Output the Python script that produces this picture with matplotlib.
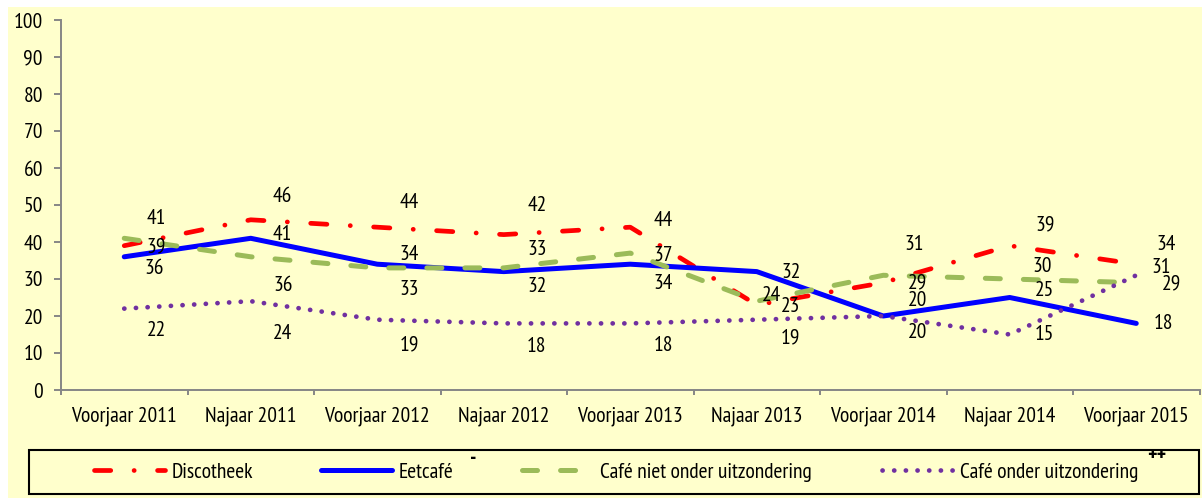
import matplotlib
matplotlib.use("Agg")
import matplotlib.pyplot as plt
from matplotlib import font_manager
from matplotlib.patches import Rectangle
import numpy as np

# ---- data ----
categories = ["Voorjaar 2011", "Najaar 2011", "Voorjaar 2012", "Najaar 2012",
              "Voorjaar 2013", "Najaar 2013", "Voorjaar 2014", "Najaar 2014",
              "Voorjaar 2015"]
discotheek = [39, 46, 44, 42, 44, 23, 29, 39, 34]
eetcafe = [36, 41, 34, 32, 34, 32, 20, 25, 18]
cafe_niet = [41, 36, 33, 33, 37, 24, 31, 30, 29]
cafe_onder = [22, 24, 19, 18, 18, 19, 20, 15, 31]
series_names = ["Discotheek", "Eetcafé", "Café niet onder uitzondering",
                "Café onder uitzondering"]
yticks = [0, 10, 20, 30, 40, 50, 60, 70, 80, 90, 100]

# label offsets (pixels) relative to each point
lab_dx = [
    [32, 32, 32, 33, 33, 34, 34, 35, 30],
    [30, 32, 32, 33, 33, 34, 34, 35, 27],
    [32, 32, 32, 33, 33, 15, 31, 32, 35],
    [32, 32, 32, 33, 33, 34, 34, 35, 25],
]
lab_dy = [
    [-1, 23, 25, 29, 7, -2, 0, 21, 20],
    [-12, 4, 10, -15, -19, -1, 16, 7, 0],
    [20, -29, -22, 18, -2, 6, 31, 12, -1],
    [-22, -32, -25, -23, -22, -18, -17, 0, 8],
]
# legend entry start positions (pixels from left)
legend_x = [94, 321, 522, 882]

# ---- fonts ----
names = {f.name for f in font_manager.fontManager.ttflist}
FONT, FS = "Liberation Sans", 12.5
for cand in ["Liberation Sans Narrow", "Arial Narrow", "Arimo Narrow",
             "PT Sans Narrow", "Roboto Condensed", "Archivo Narrow",
             "Open Sans Condensed", "Asap Condensed"]:
    if cand in names:
        FONT, FS = cand, 15.5
        break
plt.rcParams["font.family"] = [FONT, "DejaVu Sans"]
plt.rcParams["lines.scale_dashes"] = False

W, H = 1202, 498
fig = plt.figure(figsize=(W / 100, H / 100), dpi=100)
fig.patch.set_facecolor("white")
fig.patches.append(Rectangle((8 / W, 0), 1 - 8 / W, (H - 7) / H,
                             transform=fig.transFigure, facecolor="#FFFFCC",
                             edgecolor="none", zorder=-10))

ax = fig.add_axes([61 / W, (H - 390) / H, 1138.5 / W, 370 / H])
ax.set_facecolor("none")
x = np.arange(len(categories))

styles = [
    dict(color="#FF0000", lw=3.4, linestyle=(0, (11.7, 16.8, 0.1, 16.8)),
         dash_capstyle="round"),
    dict(color="#0000FF", lw=3.6, linestyle="-", solid_joinstyle="round",
         solid_capstyle="round"),
    dict(color="#9BBB59", lw=3.6, linestyle=(0, (10.8, 16.6)),
         dash_capstyle="round"),
    dict(color="#7030A0", lw=3.4, linestyle=(0, (0.1, 8.3)),
         dash_capstyle="round"),
]
data = [discotheek, eetcafe, cafe_niet, cafe_onder]
handles = []
for s, vals, st, name in zip(range(4), data, styles, series_names):
    ln, = ax.plot(x, vals, label=name, **st)
    handles.append(ln)
    for i, v in enumerate(vals):
        ax.annotate(str(v), (x[i], v), xytext=(lab_dx[s][i], lab_dy[s][i]),
                    textcoords="offset pixels", ha="center", va="center",
                    fontsize=FS, color="black")

ax.set_xlim(-0.5, len(categories) - 0.5)
ax.set_ylim(0, 100)
ax.set_yticks(yticks)
ax.set_yticklabels([str(t) for t in yticks])
ax.set_xticks(x)
ax.set_xticklabels(categories)
ax.set_xticks(np.arange(-0.5, len(categories), 1.0), minor=True)
for side in ["top", "right"]:
    ax.spines[side].set_visible(False)
for side in ["left", "bottom"]:
    ax.spines[side].set_color("#868686")
    ax.spines[side].set_linewidth(1.4)
ax.tick_params(axis="y", direction="out", length=5, width=1.4,
               color="#868686", labelsize=FS, pad=8)
ax.tick_params(axis="x", which="major", length=0, labelsize=FS, pad=12)
ax.tick_params(axis="x", which="minor", direction="out", length=3.6,
               width=1.4, color="#868686")

# legend box
bx0, bx1, by0, by1 = 29, 1199, 450, 494
fig.patches.append(Rectangle((bx0 / W, (H - by1) / H), (bx1 - bx0) / W,
                             (by1 - by0) / H, transform=fig.transFigure,
                             facecolor="none", edgecolor="black", lw=1.5,
                             zorder=5))
ly = (H - (by0 + by1) / 2) / H
for h, name, lx in zip(handles, series_names, legend_x):
    fig.legend(handles=[h], labels=[name], frameon=False,
               loc="center left", bbox_to_anchor=(lx / W, ly),
               fontsize=FS, handlelength=3.3, handletextpad=0.3,
               borderpad=0, borderaxespad=0)
fig.text(473 / W, (H - 458) / H, "-", ha="center", va="center",
         fontsize=FS, fontweight="bold")
fig.text(1157 / W, (H - 455) / H, "++", ha="center", va="center",
         fontsize=FS, fontweight="bold")

fig.savefig("out.png", dpi=100, facecolor=fig.get_facecolor())
